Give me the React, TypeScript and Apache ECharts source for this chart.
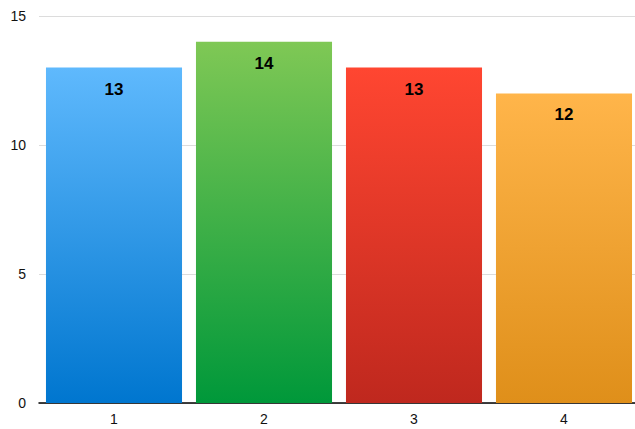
import React, { useEffect, useRef } from "react";
import * as echarts from "echarts";

const categories = ["1", "2", "3", "4"];
const values = [13, 14, 13, 12];
const topColors = ["#5fb9fd", "#7fc855", "#ff4631", "#ffb54a"];
const bottomColors = ["#0076cf", "#00983a", "#bf281e", "#df8f1a"];

export default function App() {
  const ref = useRef<HTMLDivElement>(null);
  useEffect(() => {
    const chart = echarts.init(ref.current!, undefined, { renderer: "svg" });
    chart.setOption({
      animation: false,
      grid: { left: 39, right: 1, top: 16, bottom: 26, containLabel: false },
      xAxis: {
        type: "category",
        data: categories,
        axisLine: { lineStyle: { color: "#000", width: 1.5 } },
        axisTick: { show: false },
        axisLabel: { color: "#111", fontSize: 14, fontFamily: "Liberation Sans, Arial, sans-serif", margin: 9 },
      },
      yAxis: {
        type: "value",
        min: 0,
        max: 15,
        interval: 5,
        axisLine: { show: false },
        axisTick: { show: false },
        axisLabel: { color: "#111", fontSize: 14, fontFamily: "Liberation Sans, Arial, sans-serif", margin: 13 },
        splitLine: { lineStyle: { color: "#dcdcdc", width: 1 } },
      },
      series: [
        {
          type: "bar",
          barCategoryGap: "9.3%",
          data: values.map((v, i) => ({
            value: v,
            itemStyle: {
              color: new echarts.graphic.LinearGradient(0, 0, 0, 1, [
                { offset: 0, color: topColors[i] },
                { offset: 1, color: bottomColors[i] },
              ]),
            },
          })),
          label: {
            show: true,
            position: "insideTop",
            distance: 13,
            color: "#000",
            fontSize: 17,
            fontWeight: "bold",
            fontFamily: "Liberation Sans, Arial, sans-serif",
          },
        },
      ],
    });
    return () => chart.dispose();
  }, []);
  return (
    <div style={{ width: 635, height: 429, position: "absolute", left: 0, top: 0, overflow: "hidden" }}>
      <div ref={ref} style={{ width: 640, height: 429 }} />
    </div>
  );
}
